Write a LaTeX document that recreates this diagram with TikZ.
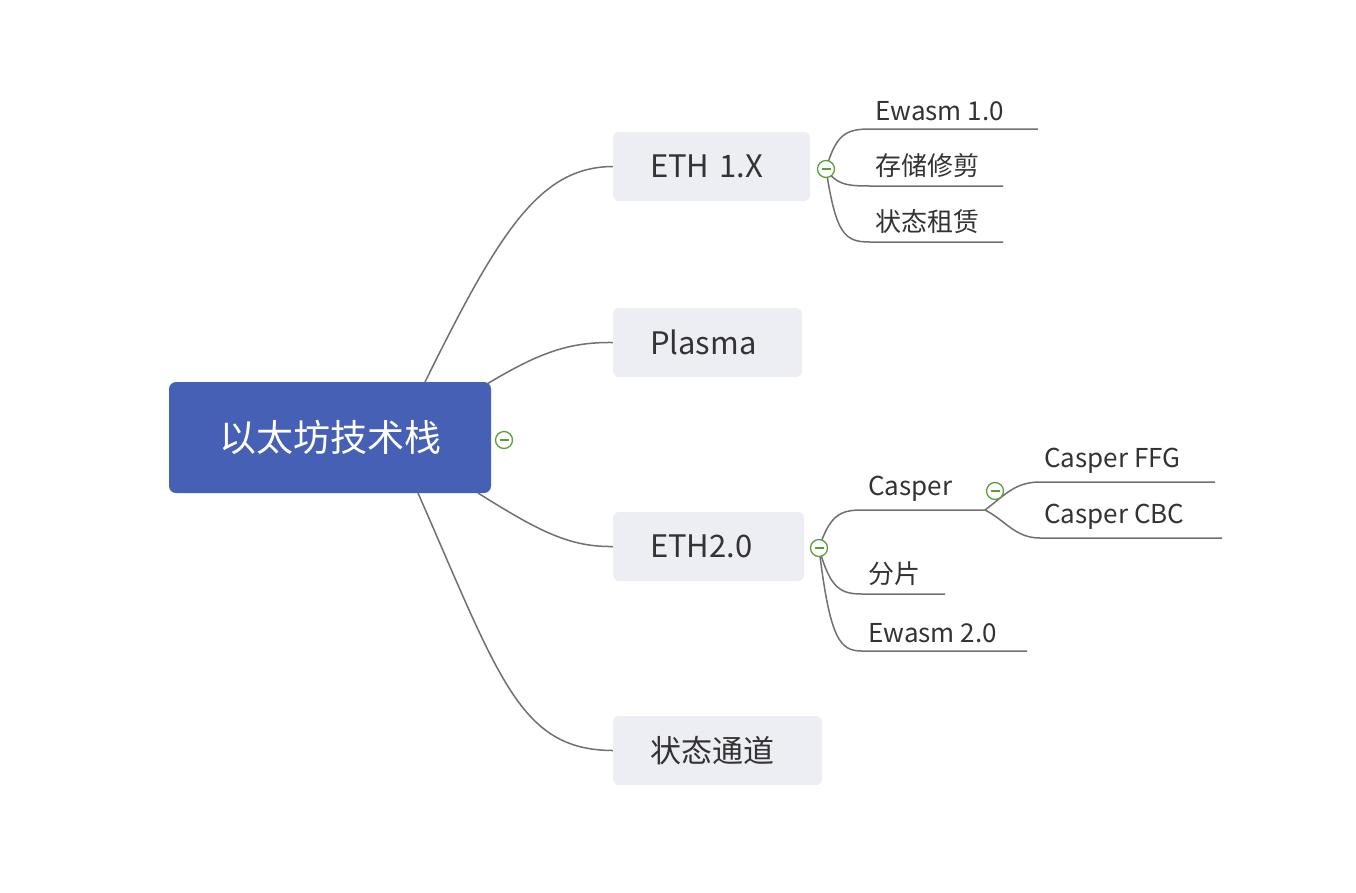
\documentclass[tikz,border=0pt]{standalone}
\usepackage{fontspec}
\setmainfont{Noto Sans CJK SC}
\begin{document}
\begin{tikzpicture}[x=1pt,y=-1pt,
  br/.style={fill=boxc,rounded corners=6pt,minimum height=69pt,inner ysep=0pt,inner xsep=37pt,align=left,font=\fontsize{31}{34}\selectfont,text=txt},
  leaf/.style={anchor=south west,inner xsep=2pt,inner ysep=6pt,font=\fontsize{26}{29}\selectfont,text=txt},
  ln/.style={draw=lnc,line width=1.5pt},
  col/.style={circle,draw=grn,line width=1.3pt,fill=white,minimum size=17pt,inner sep=0pt,
    path picture={\draw[grn,line width=1.3pt](path picture bounding box.west)++(4pt,0)--++(9pt,0);}}]
\definecolor{boxc}{HTML}{EDEDF4}\definecolor{txt}{HTML}{333333}
\definecolor{lnc}{HTML}{707070}\definecolor{grn}{HTML}{5A9E3A}\definecolor{rootc}{HTML}{4660B5}
\useasboundingbox (0,0) rectangle (1356,892);
\node[fill=rootc,rounded corners=7pt,minimum width=322pt,minimum height=111pt,text=white,font=\fontsize{37}{40}\selectfont] (root) at (330,437.5) {以太坊技术栈};
\node[br,text width=123pt] (e1) at (711.5,166.5) {ETH 1.X};
\node[br,text width=115pt] (pl) at (707.5,342.5) {Plasma};
\node[br,text width=117pt] (e2) at (708.5,546.5) {ETH2.0};
\node[br,text width=135pt] (sc) at (717.5,750.5) {状态通道};
\coordinate (r1) at (425,382); \coordinate (r2) at (487,384);
\coordinate (r3) at (478,493); \coordinate (r4) at (418,493);
\draw[ln] (r1) .. controls (500,230) and (540,167) .. (e1.west);
\draw[ln] (r2) .. controls (540,352) and (570,342) .. (pl.west);
\draw[ln] (r3) .. controls (540,532) and (570,547) .. (e2.west);
\draw[ln] (r4) .. controls (500,680) and (520,750) .. (sc.west);
\node[col] (c0) at (504,440) {};
% ETH1 children
\coordinate (a1) at (870,129); \coordinate (a1e) at (1038,129);
\coordinate (a2) at (870,186); \coordinate (a2e) at (1003,186);
\coordinate (a3) at (870,242); \coordinate (a3e) at (1003,242);
\draw[ln] (826,169) .. controls (836,135) and (845,129) .. (a1) -- (a1e);
\draw[ln] (826,169) .. controls (836,184) and (845,186) .. (a2) -- (a2e);
\draw[ln] (826,169) .. controls (836,235) and (845,242) .. (a3) -- (a3e);
\node[col] (c1) at (826,169) {};
\node[leaf] (t1) at (873,127) {Ewasm 1.0};
\node[leaf] (t2) at (873,184) {存储修剪};
\node[leaf] (t3) at (873,240) {状态租赁};
% ETH2 children
\coordinate (b1) at (862,510); \coordinate (b1e) at (985,510);
\coordinate (b2) at (862,594); \coordinate (b2e) at (945,594);
\coordinate (b3) at (862,651); \coordinate (b3e) at (1027,651);
\draw[ln] (819,548) .. controls (830,515) and (840,510) .. (b1) -- (b1e);
\draw[ln] (819,548) .. controls (830,588) and (840,594) .. (b2) -- (b2e);
\draw[ln] (819,548) .. controls (830,640) and (840,651) .. (b3) -- (b3e);
\node[col] (c2) at (819,548) {};
\node[leaf] (u1) at (866,508) {Casper};
\node[leaf] (u2) at (866,592) {分片};
\node[leaf] (u3) at (866,649) {Ewasm 2.0};
\coordinate (d1) at (1040,482); \coordinate (d1e) at (1215,482);
\coordinate (d2) at (1040,538); \coordinate (d2e) at (1222,538);
\draw[ln] (b1e) .. controls (1005,495) and (1015,482) .. (d1) -- (d1e);
\draw[ln] (b1e) .. controls (1005,520) and (1015,538) .. (d2) -- (d2e);
\node[col] (c3) at (995,491) {};
\node[leaf] (v1) at (1042,480) {Casper FFG};
\node[leaf] (v2) at (1042,536) {Casper CBC};
\end{tikzpicture}
\end{document}
